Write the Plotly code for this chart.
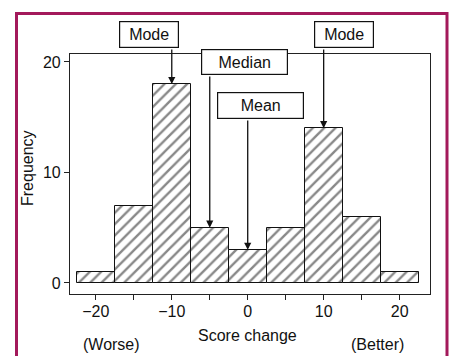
import plotly.graph_objects as go

# Data
bin_centers = [-20, -15, -10, -5, 0, 5, 10, 15, 20]
frequency = [1, 7, 18, 5, 3, 5, 14, 6, 1]
x_tick_vals = [-20, -15, -10, -5, 0, 5, 10, 15, 20]
x_tick_text = ["\u221220", "", "\u221210", "", "0", "", "10", "", "20"]
y_tick_vals = [0, 10, 20]
y_tick_text = ["0", "10", "20"]
mode_values = [-10, 10]
median_value = -5
mean_value = 0

FONT = "Liberation Sans, Arial, sans-serif"
TXT = "#111"

L, R, T, B = 70, 19, 54, 62
W, H = 449, 356
PW, PH = W - L - R, H - T - B

def px(p):
    return (p - L) / PW

def py(q):
    return (H - B - q) / PH

fig = go.Figure()
fig.add_trace(go.Bar(
    x=bin_centers, y=frequency, width=5,
    marker=dict(color="white", line=dict(color="#111", width=1),
                pattern=dict(shape="/", fgcolor="#111", bgcolor="white", size=8, solidity=0.3)),
    showlegend=False, hoverinfo="skip",
))

yr = [-1.0, 20.72]
def dy(q):
    return yr[0] + (H - B - q) / PH * (yr[1] - yr[0])

ann = []
arrow_specs = [
    (mode_values[0], frequency[bin_centers.index(mode_values[0])], 48),
    (median_value, frequency[bin_centers.index(median_value)], 75),
    (mean_value, frequency[bin_centers.index(mean_value)], 119),
    (mode_values[1], frequency[bin_centers.index(mode_values[1])], 48),
]
for xv, yv, tail_q in arrow_specs:
    ann.append(dict(x=xv, y=yv, ax=xv, ay=dy(tail_q), xref="x", yref="y", axref="x", ayref="y",
                    text="", showarrow=True, arrowhead=2, arrowsize=1.1, arrowwidth=1.3,
                    arrowcolor="#111", standoff=0, startstandoff=0))

boxes = [
    ("Mode", 149, 34.5, 58, 25),
    ("Mode", 344, 34.5, 58, 25),
    ("Median", 244.5, 62, 85, 24),
    ("Mean", 260.5, 105.5, 85, 25),
]
for txt, cx, cy, bw, bh in boxes:
    ann.append(dict(x=px(cx), y=py(cy), xref="paper", yref="paper", text=txt, showarrow=False,
                    xanchor="center", yanchor="middle", width=bw, height=bh, borderpad=0,
                    bgcolor="white", bordercolor="#111", borderwidth=1.2,
                    font=dict(family=FONT, size=16, color=TXT)))

ann.append(dict(x=px(247.5), y=py(335), xref="paper", yref="paper", text="Score change",
                showarrow=False, xanchor="center", yanchor="middle",
                font=dict(family=FONT, size=16, color=TXT)))
ann.append(dict(x=px(111), y=py(344), xref="paper", yref="paper", text="(Worse)",
                showarrow=False, xanchor="center", yanchor="middle",
                font=dict(family=FONT, size=16, color=TXT)))
ann.append(dict(x=px(377), y=py(344), xref="paper", yref="paper", text="(Better)",
                showarrow=False, xanchor="center", yanchor="middle",
                font=dict(family=FONT, size=16, color=TXT)))
ann.append(dict(x=px(27), y=py(168), xref="paper", yref="paper", text="Frequency",
                showarrow=False, xanchor="center", yanchor="middle", textangle=-90,
                font=dict(family=FONT, size=16, color=TXT)))

shapes = [dict(type="rect", xref="paper", yref="paper",
               x0=px(16.5), x1=px(447), y0=py(362), y1=py(13.5),
               line=dict(color="#A3195B", width=3), fillcolor="rgba(0,0,0,0)", layer="below")]

fig.update_layout(
    width=W, height=H, margin=dict(l=L, r=R, t=T, b=B),
    paper_bgcolor="white", plot_bgcolor="white",
    bargap=0, annotations=ann, shapes=shapes,
    xaxis=dict(range=[-23.4, 24.0], tickvals=x_tick_vals, ticktext=x_tick_text,
               ticks="outside", ticklen=5, tickcolor="#222", showgrid=False, zeroline=False,
               showline=True, linecolor="#222", linewidth=1.2, mirror=True,
               ticklabelstandoff=-2,
               tickfont=dict(family=FONT, size=16, color=TXT)),
    yaxis=dict(range=yr, tickvals=y_tick_vals, ticktext=y_tick_text,
               ticks="outside", ticklen=5, tickcolor="#222", showgrid=False, zeroline=False,
               showline=True, linecolor="#222", linewidth=1.2, mirror=True,
               tickfont=dict(family=FONT, size=16, color=TXT)),
)

fig.write_html("out.html", config={"displayModeBar": False},
               post_script="document.body.style.margin='0';document.body.style.overflow='hidden';")
